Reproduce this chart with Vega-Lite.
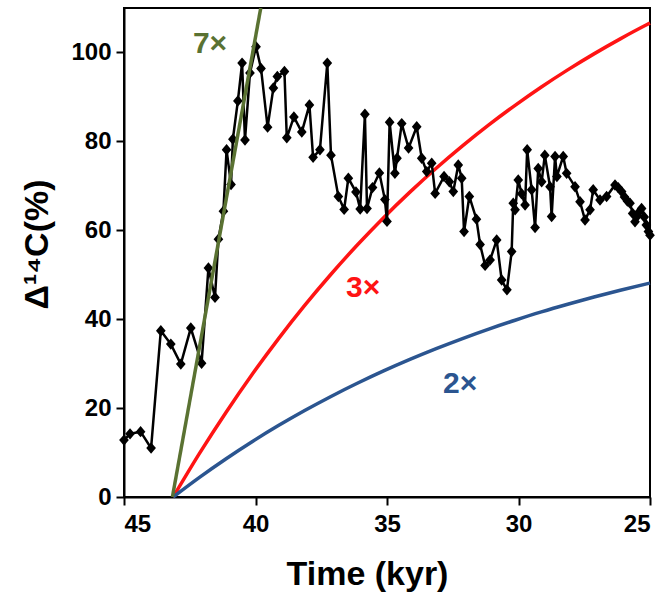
{
  "$schema": "https://vega.github.io/schema/vega-lite/v6.json",
  "width": 526,
  "height": 489,
  "autosize": {"type": "none"},
  "padding": {"left": 124, "top": 8, "right": 18, "bottom": 105},
  "background": "white",
  "config": {
    "font": "Liberation Sans",
    "view": {"stroke": "black", "strokeWidth": 2},
    "axis": {
      "grid": false,
      "domainColor": "black",
      "domainWidth": 2,
      "tickColor": "black",
      "tickWidth": 2,
      "tickSize": 8,
      "labelFont": "Liberation Sans",
      "labelFontWeight": "bold",
      "labelFontSize": 24,
      "labelColor": "black",
      "titleFont": "Liberation Sans",
      "titleFontWeight": "bold",
      "titleFontSize": 34,
      "titleColor": "black"
    }
  },
  "datasets": {
    "record": [
      {"t": 45.00, "d14c": 12.8}, {"t": 44.77, "d14c": 14.2}, {"t": 44.37, "d14c": 14.7}, {"t": 43.97, "d14c": 11.0},
      {"t": 43.60, "d14c": 37.4}, {"t": 43.22, "d14c": 34.4}, {"t": 42.84, "d14c": 29.9}, {"t": 42.46, "d14c": 38.0},
      {"t": 42.05, "d14c": 30.1}, {"t": 41.79, "d14c": 51.5}, {"t": 41.54, "d14c": 44.9}, {"t": 41.41, "d14c": 58.0},
      {"t": 41.22, "d14c": 64.3}, {"t": 41.10, "d14c": 78.1}, {"t": 40.93, "d14c": 70.3}, {"t": 40.86, "d14c": 80.5},
      {"t": 40.67, "d14c": 89.1}, {"t": 40.51, "d14c": 97.6}, {"t": 40.40, "d14c": 80.3}, {"t": 40.21, "d14c": 95.4},
      {"t": 39.98, "d14c": 101.3}, {"t": 39.79, "d14c": 96.4}, {"t": 39.54, "d14c": 83.2}, {"t": 39.32, "d14c": 92.0},
      {"t": 39.17, "d14c": 94.6}, {"t": 38.90, "d14c": 95.7}, {"t": 38.81, "d14c": 80.8}, {"t": 38.54, "d14c": 85.5},
      {"t": 38.24, "d14c": 82.1}, {"t": 37.95, "d14c": 88.2}, {"t": 37.81, "d14c": 76.4}, {"t": 37.55, "d14c": 78.1},
      {"t": 37.27, "d14c": 97.6}, {"t": 37.13, "d14c": 76.9}, {"t": 36.85, "d14c": 67.6}, {"t": 36.63, "d14c": 64.7},
      {"t": 36.47, "d14c": 71.7}, {"t": 36.18, "d14c": 68.6}, {"t": 36.02, "d14c": 64.8}, {"t": 35.84, "d14c": 86.1},
      {"t": 35.76, "d14c": 64.9}, {"t": 35.55, "d14c": 69.6}, {"t": 35.29, "d14c": 72.9}, {"t": 35.08, "d14c": 66.9},
      {"t": 35.00, "d14c": 62.0}, {"t": 34.90, "d14c": 84.3}, {"t": 34.70, "d14c": 72.8}, {"t": 34.62, "d14c": 76.2},
      {"t": 34.44, "d14c": 84.0}, {"t": 34.18, "d14c": 78.5}, {"t": 33.87, "d14c": 83.3}, {"t": 33.68, "d14c": 76.2},
      {"t": 33.49, "d14c": 73.2}, {"t": 33.30, "d14c": 75.1}, {"t": 33.17, "d14c": 68.3}, {"t": 32.83, "d14c": 72.1},
      {"t": 32.63, "d14c": 70.9}, {"t": 32.48, "d14c": 68.7}, {"t": 32.29, "d14c": 74.7}, {"t": 32.16, "d14c": 71.7},
      {"t": 32.07, "d14c": 59.7}, {"t": 31.87, "d14c": 67.6}, {"t": 31.60, "d14c": 62.5}, {"t": 31.46, "d14c": 56.8},
      {"t": 31.27, "d14c": 52.1}, {"t": 31.08, "d14c": 53.3}, {"t": 30.83, "d14c": 57.8}, {"t": 30.64, "d14c": 48.8},
      {"t": 30.44, "d14c": 46.6}, {"t": 30.26, "d14c": 55.2}, {"t": 30.20, "d14c": 66.1}, {"t": 30.13, "d14c": 64.6},
      {"t": 30.01, "d14c": 71.3}, {"t": 29.88, "d14c": 68.2}, {"t": 29.75, "d14c": 65.7}, {"t": 29.67, "d14c": 78.1},
      {"t": 29.50, "d14c": 69.1}, {"t": 29.37, "d14c": 60.6}, {"t": 29.25, "d14c": 73.9}, {"t": 29.12, "d14c": 70.9},
      {"t": 29.00, "d14c": 76.9}, {"t": 28.80, "d14c": 69.8}, {"t": 28.74, "d14c": 63.1}, {"t": 28.61, "d14c": 76.6},
      {"t": 28.54, "d14c": 72.1}, {"t": 28.30, "d14c": 76.6}, {"t": 28.17, "d14c": 72.8}, {"t": 27.85, "d14c": 69.8},
      {"t": 27.66, "d14c": 66.4}, {"t": 27.47, "d14c": 62.3}, {"t": 27.28, "d14c": 64.6}, {"t": 27.16, "d14c": 69.1},
      {"t": 26.90, "d14c": 66.8}, {"t": 26.65, "d14c": 67.6}, {"t": 26.33, "d14c": 70.2}, {"t": 26.21, "d14c": 69.6},
      {"t": 26.08, "d14c": 68.7}, {"t": 25.97, "d14c": 67.5}, {"t": 25.86, "d14c": 66.6}, {"t": 25.76, "d14c": 66.1},
      {"t": 25.66, "d14c": 63.8}, {"t": 25.57, "d14c": 61.9}, {"t": 25.48, "d14c": 63.2}, {"t": 25.40, "d14c": 64.2},
      {"t": 25.32, "d14c": 64.9}, {"t": 25.22, "d14c": 63.0}, {"t": 25.14, "d14c": 61.2}, {"t": 25.06, "d14c": 59.7},
      {"t": 25.00, "d14c": 58.9}
    ],
    "curves": [
      {"k": "7x", "t": 43.16, "d14c": 0}, {"k": "7x", "t": 39.80, "d14c": 110},
      {"k": "3x", "t": 43.13, "d14c": 0}, {"k": "3x", "t": 42.13, "d14c": 9.80}, {"k": "3x", "t": 41.13, "d14c": 18.97},
      {"k": "3x", "t": 40.13, "d14c": 27.56}, {"k": "3x", "t": 39.13, "d14c": 35.58}, {"k": "3x", "t": 38.13, "d14c": 43.09},
      {"k": "3x", "t": 37.13, "d14c": 50.11}, {"k": "3x", "t": 36.13, "d14c": 56.68}, {"k": "3x", "t": 35.13, "d14c": 62.84},
      {"k": "3x", "t": 34.13, "d14c": 68.58}, {"k": "3x", "t": 33.13, "d14c": 73.96}, {"k": "3x", "t": 32.13, "d14c": 78.99},
      {"k": "3x", "t": 31.13, "d14c": 83.71}, {"k": "3x", "t": 30.13, "d14c": 88.10}, {"k": "3x", "t": 29.13, "d14c": 92.23},
      {"k": "3x", "t": 28.13, "d14c": 96.08}, {"k": "3x", "t": 27.13, "d14c": 99.68}, {"k": "3x", "t": 26.13, "d14c": 103.06},
      {"k": "3x", "t": 25.13, "d14c": 106.22}, {"k": "3x", "t": 25.00, "d14c": 106.61},
      {"k": "2x", "t": 43.13, "d14c": 0}, {"k": "2x", "t": 42.13, "d14c": 4.42}, {"k": "2x", "t": 41.13, "d14c": 8.56},
      {"k": "2x", "t": 40.13, "d14c": 12.44}, {"k": "2x", "t": 39.13, "d14c": 16.06}, {"k": "2x", "t": 38.13, "d14c": 19.45},
      {"k": "2x", "t": 37.13, "d14c": 22.62}, {"k": "2x", "t": 36.13, "d14c": 25.58}, {"k": "2x", "t": 35.13, "d14c": 28.36},
      {"k": "2x", "t": 34.13, "d14c": 30.95}, {"k": "2x", "t": 33.13, "d14c": 33.38}, {"k": "2x", "t": 32.13, "d14c": 35.65},
      {"k": "2x", "t": 31.13, "d14c": 37.78}, {"k": "2x", "t": 30.13, "d14c": 39.76}, {"k": "2x", "t": 29.13, "d14c": 41.63},
      {"k": "2x", "t": 28.13, "d14c": 43.36}, {"k": "2x", "t": 27.13, "d14c": 44.99}, {"k": "2x", "t": 26.13, "d14c": 46.51},
      {"k": "2x", "t": 25.13, "d14c": 47.94}, {"k": "2x", "t": 25.00, "d14c": 48.12}
    ],
    "labels": [
      {"k": "7x", "text": "7×", "t": 41.73, "d14c": 99.9},
      {"k": "3x", "text": "3×", "t": 35.91, "d14c": 45.0},
      {"k": "2x", "text": "2×", "t": 32.22, "d14c": 23.4}
    ]
  },
  "encoding": {
    "x": {
      "field": "t", "type": "quantitative",
      "scale": {"domain": [45, 25], "nice": false, "zero": false},
      "axis": {"values": [45, 40, 35, 30, 25], "title": "Time (kyr)", "titlePadding": 21, "titleX": 243, "titleAlign": "center", "labelPadding": 7, "format": "d"}
    },
    "y": {
      "field": "d14c", "type": "quantitative",
      "scale": {"domain": [0, 110], "nice": false},
      "axis": {"values": [0, 20, 40, 60, 80, 100], "title": "Δ¹⁴C(%)", "titlePadding": 16, "titleY": 236, "titleAlign": "center", "labelPadding": 5}
    }
  },
  "layer": [
    {
      "data": {"name": "curves"},
      "transform": [{"filter": "datum.k !== '7x'"}],
      "mark": {"type": "line", "strokeWidth": 3.5, "interpolate": "monotone"},
      "encoding": {
        "detail": {"field": "k"},
        "color": {"field": "k", "type": "nominal", "scale": {"domain": ["7x", "3x", "2x"], "range": ["#5a7232", "#ff1414", "#2b5590"]}, "legend": null}
      }
    },
    {
      "data": {"name": "record"},
      "mark": {"type": "line", "color": "black", "strokeWidth": 2.5},
      "encoding": {"order": {"field": "t", "sort": "descending"}}
    },
    {
      "data": {"name": "record"},
      "mark": {"type": "point", "shape": "M-0.85,0L0,-1L0.85,0L0,1Z", "filled": true, "color": "black", "opacity": 1, "size": 130},
      "encoding": {}
    },
    {
      "data": {"name": "curves"},
      "transform": [{"filter": "datum.k === '7x'"}],
      "mark": {"type": "line", "strokeWidth": 3.5, "clip": true},
      "encoding": {
        "color": {"field": "k", "type": "nominal", "scale": {"domain": ["7x", "3x", "2x"], "range": ["#5a7232", "#ff1414", "#2b5590"]}, "legend": null}
      }
    },
    {
      "data": {"name": "labels"},
      "mark": {"type": "text", "font": "Liberation Sans", "fontWeight": "bold", "fontSize": 30, "align": "center", "baseline": "alphabetic"},
      "encoding": {
        "text": {"field": "text"},
        "color": {"field": "k", "type": "nominal", "scale": {"domain": ["7x", "3x", "2x"], "range": ["#5a7232", "#ff1414", "#2b5590"]}, "legend": null}
      }
    }
  ]
}
